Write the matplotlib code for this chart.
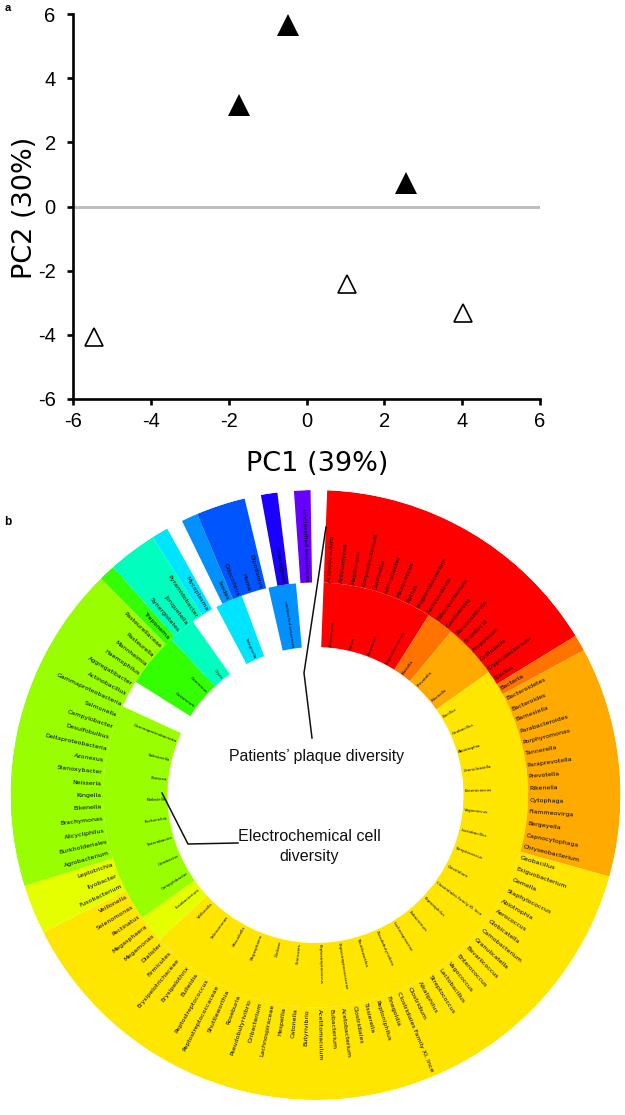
import numpy as np
import matplotlib
matplotlib.use("Agg")
import matplotlib.pyplot as plt
from matplotlib.lines import Line2D

plt.rcParams["axes.unicode_minus"] = False

W, H = 625, 1115

# panel a, PCA scores
filled_x = [-1.73, -0.47, 2.56]
filled_y = [3.17, 5.66, 0.74]
open_x = [1.04, 4.03, -5.46]
open_y = [-2.41, -3.31, -4.06]
ticks = [-6, -4, -2, 0, 2, 4, 6]

# panel b, outer ring taxa going clockwise from the top, None = empty slot
RED, DORANGE, ORANGE = "#ff0000", "#ff7300", "#ffaa00"
YELLOW, LEMON, LIME = "#ffe600", "#e6ff00", "#99ff00"
GREEN, TEAL, CYAN = "#33ff00", "#00ffbf", "#00e5ff"
SKY, BLUE, INDIGO, PURPLE = "#0091ff", "#0055ff", "#1a00ff", "#6600ff"

outer_red = ["Actinobaculum", "Actinomyces", "Mobiluncus", "Corynebacterium", "Glarmatia",
             "Arthrobacter", "Micrococcus", "Rothia", "Propionibacterium", "Aeriscardovia",
             "Bifidobacterium", "Gardnerella", "Parascardovia", "Scardovia", "Atopobium",
             "Collinsella", "Cryptobacterium", "Slackia"]
outer_dorange = ["Bacteria"]
outer_orange = ["Bacteroidetes", "Bacteroides", "Barnesiella", "Parabacteroides", "Porphyromonas",
                "Tannerella", "Paraprevotella", "Prevotella", "Rikenella", "Cytophaga",
                "Flammeovirga", "Bergeyella", "Capnocytophaga", "Chryseobacterium"]
outer_yellow = ["Geobacillus", "Exiguobacterium", "Gemella", "Staphylococcus", "Abiotrophia",
                "Aerococcus", "Globicatella", "Carnobacterium", "Granulicatella", "Bavariicoccus",
                "Enterococcus", "Vagococcus", "Lactobacillus", "Streptococcus", "Alkaliphilus",
                "Clostridium", "Clostridiales Family XI. Ince", "Finegoldia", "Peptoniphilus",
                "Tissierella", "Clostridiales", "Acetobacterium", "Eubacterium", "Acetitomaculum",
                "Butyrivibrio", "Catonella", "Hespellia", "Lachnospiraceae", "Oribacterium",
                "Pseudobutyrivibrio", "Roseburia", "Shuttleworthia", "Peptostreptococcaceae",
                "Peptostreptococcus", "Bulleidia", "Erysipelothrix", "Erysipelotrichaceae",
                "Firmicutes", "Dialister", "Megamonas", "Megasphaera", "Pectinatus",
                "Selenomonas", "Veillonella"]
outer_lemon = ["Fusobacterium", "Ilyobacter", "Leptotrichia"]
outer_lime = ["Agrobacterium", "Burkholderiales", "Alicycliphilus", "Brachymonas", "Eikenella",
              "Kingella", "Neisseria", "Stenoxybacter", "Azonexus", "Deltaproteobacteria",
              "Desulfobulbus", "Campylobacter", "Salmonella", "Gammaproteobacteria",
              "Actinobacillus", "Aggregatibacter", "Haemophilus", "Mannheimia", "Pasteurella",
              "Pasteurellaceae"]
outer_green = ["Treponema"]
outer_teal = ["Synergistetes", "Jonquetella", "Pyramidobacter"]
outer_cyan = ["Mycoplasma"]
outer_sky = ["Ixodes"]
outer_blue = ["Odocoileus", "Homo", "Dipodomys"]
outer_indigo = ["unassigned"]
outer_purple = ["unclassified sequences"]

inner_red = ["Actinomyces", "Rothia", "Atopobium", "Propionibacterium"]
inner_dorange = ["Blattella"]
inner_orange = ["Prevotella", "Rikenella"]
inner_yellow = ["Bacillus", "Geobacillus", "Abiotrophia", "Granulicatella", "Enterococcus",
                "Vagococcus", "Lactobacillus", "Streptococcus", "Clostridium",
                "Clostridiales Family XI. Ince", "Peptoniphilus", "Eubacterium",
                "Lachnospiraceae", "Pseudobutyrivibrio", "Shuttleworthia",
                "Peptostreptococcaceae", "Peptostreptococcus", "Firmicutes", "Dialister",
                "Megasphaera", "Mitsuokella", "Selenomonas", "Veillonella"]
inner_lemon = ["Fusobacterium"]
inner_lime = ["Campylobacter", "Citrobacter", "Enterobacter", "Escherichia", "Klebsiella",
              "Pantoea", "Salmonella", "Gammaproteobacteria"]
inner_green = ["Castaneum", "Gammarus"]
inner_teal = ["Oryza"]
inner_cyan = ["Selaginella"]
inner_sky = ["unclassified sequences"]

outer_groups = [(outer_red, RED), (outer_dorange, DORANGE), (outer_orange, ORANGE),
                (outer_yellow, YELLOW), (outer_lemon, LEMON), (outer_lime, LIME),
                (outer_green, GREEN), (outer_teal, TEAL), (outer_cyan, CYAN), None,
                (outer_sky, SKY), (outer_blue, BLUE), None, (outer_indigo, INDIGO), None,
                (outer_purple, PURPLE), None]
inner_groups = [(inner_red, RED), (inner_dorange, DORANGE), (inner_orange, ORANGE),
                (inner_yellow, YELLOW), (inner_lemon, LEMON), (inner_lime, LIME), None,
                (inner_green, GREEN), (inner_teal, TEAL), None, (inner_cyan, CYAN), None,
                (inner_sky, SKY), None]


def draw_ring(ax, groups, r0, r1, fsize, start_deg=2.2):
    n = sum(1 if g is None else len(g[0]) for g in groups)
    step = 360.0 / n
    pos = 0
    for g in groups:
        if g is None:
            pos += 1
            continue
        labels, col = g
        a = start_deg + pos * step
        ax.bar(np.radians(a), r1 - r0, width=np.radians(step * len(labels)), bottom=r0,
               align="edge", color=col, linewidth=0, zorder=2)
        for i, name in enumerate(labels):
            deg = (a + (i + 0.5) * step) % 360
            if deg < 180:
                rot, ha = 90 - deg, "left"
            else:
                rot, ha = 270 - deg, "right"
            ax.text(np.radians(deg), r0 + 1.5, name, rotation=rot, rotation_mode="anchor",
                    ha=ha, va="center", fontsize=fsize, color="black", zorder=3)
        pos += len(labels)


def px_line(fig, xs, ys, lw=1.1):
    fig.add_artist(Line2D([x / W for x in xs], [1 - y / H for y in ys], color="#111111", lw=lw))


fig = plt.figure(figsize=(W / 100, H / 100), dpi=100)

# scatter
ax = fig.add_axes([73 / W, 1 - 399 / H, 467 / W, 385 / H])
ax.set_xlim(-6, 6)
ax.set_ylim(-6, 6)
ax.axhline(0, color="#bfbfbf", lw=2.2, zorder=1)
ax.plot(filled_x, filled_y, "^", color="black", ms=16, mew=0, zorder=3)
ax.plot(open_x, open_y, "^", mfc="white", mec="black", ms=13.5, mew=1.2, zorder=3)
ax.set_xticks(ticks)
ax.set_yticks(ticks)
ax.spines["top"].set_visible(False)
ax.spines["right"].set_visible(False)
ax.spines["left"].set_linewidth(1.9)
ax.spines["bottom"].set_linewidth(1.9)
ax.tick_params(width=1.9, length=4.5, labelsize=14.5, labelfontfamily="Liberation Sans")
ax.tick_params(axis="x", pad=5)
ax.tick_params(axis="y", pad=8)
ax.set_xlabel("PC1 (39%)", fontsize=19.5, va="center")
ax.set_ylabel("PC2 (30%)", fontsize=19.5, va="center")
ax.xaxis.set_label_coords((317 - 73) / 467, -(464 - 399) / 385)
ax.yaxis.set_label_coords((25 - 73) / 467, 0.497)

# sunburst
cx, cy, R = 315.5, 795, 305
pol = fig.add_axes([(cx - R) / W, 1 - (cy + R) / H, 2 * R / W, 2 * R / H], projection="polar")
pol.set_theta_zero_location("N")
pol.set_theta_direction(-1)
pol.set_ylim(0, R)
pol.axis("off")
draw_ring(pol, inner_groups, 148, 212.5, 2.9)
draw_ring(pol, outer_groups, 212.5, 305, 4.5)

# annotations
fig.text(316.5 / W, 1 - 756 / H, "Patients\u2019 plaque diversity", family="Liberation Sans",
         fontsize=11.4, ha="center", va="center", color="#111111")
fig.text(309 / W, 1 - 846.5 / H, "Electrochemical cell\ndiversity", family="Liberation Sans",
         fontsize=11.6, ha="center", va="center", linespacing=1.4, color="#111111")
px_line(fig, [326, 304, 312], [527, 673, 738])
px_line(fig, [162, 188, 238], [793, 844, 843])

fig.text(5 / W, 1 - 8 / H, "a", fontsize=8, fontweight="bold", family="Liberation Sans", va="center")
fig.text(4 / W, 1 - 522 / H, "b", fontsize=8.5, fontweight="bold", family="Liberation Sans", va="center")

fig.savefig("out.png", dpi=100)
